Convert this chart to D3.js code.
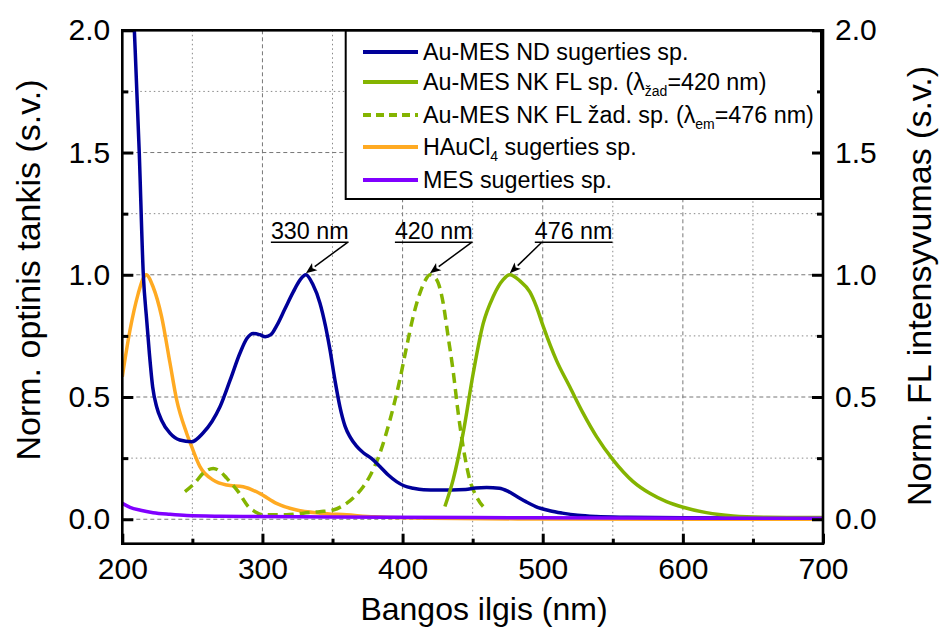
<!DOCTYPE html>
<html>
<head>
<meta charset="utf-8">
<script src="https://cdn.jsdelivr.net/npm/d3@7"></script>
<style>
  html, body { margin: 0; padding: 0; background: #fff; }
  svg { display: block; font-family: "Liberation Sans", Arial, sans-serif; }
</style>
</head>
<body>
<svg id="chart" width="941" height="628"></svg>
<script>
// Spectra: [wavelength nm, normalised value]
const auMesAbs = [
  [204, 2.6], [208.6, 2.0], [212.1, 1.5], [215, 1.0], [217.4, 0.815], [219.3, 0.68],
  [221.7, 0.54], [224.5, 0.46], [228, 0.405], [234, 0.352], [241, 0.324], [249.5, 0.317],
  [257.6, 0.353], [264, 0.40], [269.7, 0.46], [277, 0.57], [284, 0.68], [289, 0.74],
  [293.4, 0.76], [298, 0.755], [302, 0.747], [306, 0.755], [310, 0.79], [316, 0.86],
  [322, 0.93], [327, 0.98], [331, 1.0], [336, 0.96], [341, 0.885], [345, 0.79],
  [348, 0.70], [352, 0.56], [355.3, 0.46], [359, 0.38], [362.4, 0.338], [367, 0.30],
  [372, 0.272], [378, 0.248], [384, 0.215], [390, 0.18], [395.7, 0.154], [401, 0.137],
  [407.6, 0.127], [415, 0.121], [425, 0.12], [435, 0.12], [445, 0.122], [452, 0.128],
  [460, 0.13], [469, 0.127], [475, 0.115], [481, 0.095], [488, 0.072], [495, 0.052],
  [505, 0.035], [514, 0.025], [525, 0.016], [538, 0.011], [560, 0.008], [600, 0.006],
  [650, 0.005], [700, 0.004]
];
const auMesFl = [
  [430.2, 0.052], [436, 0.16], [443.2, 0.352], [450.4, 0.597], [457.5, 0.80],
  [464.6, 0.91], [471.8, 0.98], [476.5, 1.0], [483.7, 0.975], [490.8, 0.93],
  [495.5, 0.87], [500.3, 0.79], [509.8, 0.65], [519.3, 0.542], [528.8, 0.434],
  [538.4, 0.338], [550.2, 0.243], [564.5, 0.154], [576.4, 0.106], [588.3, 0.072],
  [600.2, 0.049], [616.8, 0.027], [635.8, 0.0135], [659.6, 0.008], [680, 0.007],
  [700, 0.007]
];
const auMesExc = [
  [244.7, 0.113], [252, 0.15], [258, 0.19], [264.9, 0.208], [270, 0.195], [274.5, 0.168],
  [282.7, 0.113], [289.9, 0.052], [295, 0.03], [300.6, 0.018], [317.3, 0.018],
  [329.1, 0.025], [341, 0.031], [350.5, 0.038], [360, 0.065], [367, 0.1], [371.9, 0.133],
  [377, 0.18], [383.8, 0.27], [391, 0.406], [398, 0.57], [402.9, 0.706], [407.6, 0.83],
  [412.3, 0.924], [416, 0.975], [419.5, 1.0], [424.3, 0.98], [429, 0.883], [432.5, 0.747],
  [436, 0.61], [439.7, 0.434], [443.2, 0.297], [448, 0.16], [452.8, 0.092], [460, 0.038]
];
const hauCl4Abs = [
  [200, 0.583], [205.5, 0.774], [211.4, 0.924], [214.5, 0.98], [217, 1.0], [222, 0.95],
  [228, 0.83], [234, 0.64], [238.8, 0.488], [245.9, 0.352], [249.5, 0.297], [255.4, 0.215],
  [264.9, 0.16], [274.5, 0.14], [286.3, 0.133], [298, 0.106], [310, 0.065], [324.4, 0.038],
  [341, 0.025], [360, 0.018], [380, 0.01], [420, 0.004], [500, 0.001], [700, 0.0]
];
const mesAbs = [
  [200, 0.065], [205.5, 0.049], [213, 0.037], [222, 0.027], [234, 0.02], [246, 0.015],
  [270, 0.012], [293, 0.011], [350, 0.009], [450, 0.007], [550, 0.005], [700, 0.004]
];

const seriesNames = [
  "Au-MES ND sugerties sp.",
  "Au-MES NK FL sp. (λ|žad|=420 nm)",
  "Au-MES NK FL žad. sp. (λ|em|=476 nm)",
  "HAuCl|4| sugerties sp.",
  "MES sugerties sp."
];
const seriesColors = ["#000099", "#84b400", "#84b400", "#ffaa22", "#8000ff"];
const seriesDash = [null, null, "10,6", null, null];
const seriesData = [auMesAbs, auMesFl, auMesExc, hauCl4Abs, mesAbs];
// drawing order: bottom to top
const drawOrder = [3, 2, 0, 1, 4];

const xMajorTicks = [200, 300, 400, 500, 600, 700];
const xMinorTicks = [250, 350, 450, 550, 650];
const yMajorTicks = [0, 0.5, 1.0, 1.5, 2.0];
const yMinorTicks = [0.25, 0.75, 1.25, 1.75];

const peakLabels = ["330 nm", "420 nm", "476 nm"];
const peakWavelengths = [331, 419.5, 476.5];
const peakValues = [1.0, 1.0, 1.0];

const svg = d3.select("#chart");
const L = 122.3, R = 823, T = 30.3, B = 543.7;

const x = d3.scaleLinear().domain([200, 700]).range([L, R]);
const y = d3.scaleLinear().domain([-0.1, 2.0]).range([B, T]);

// grid
const grid = svg.append("g");
grid.selectAll("line.vmaj").data(xMajorTicks.filter(v => v > 200 && v < 700)).join("line")
  .attr("x1", d => x(d)).attr("x2", d => x(d)).attr("y1", T).attr("y2", B)
  .attr("stroke", "#777").attr("stroke-width", 1).attr("stroke-dasharray", "4,3");
grid.selectAll("line.vmin").data(xMinorTicks).join("line")
  .attr("x1", d => x(d)).attr("x2", d => x(d)).attr("y1", T).attr("y2", B)
  .attr("stroke", "#888").attr("stroke-width", 1).attr("stroke-dasharray", "1.5,3");
grid.selectAll("line.hmaj").data(yMajorTicks.filter(v => v < 2)).join("line")
  .attr("y1", d => y(d)).attr("y2", d => y(d)).attr("x1", L).attr("x2", R)
  .attr("stroke", "#777").attr("stroke-width", 1).attr("stroke-dasharray", "4,3");
grid.selectAll("line.hmin").data(yMinorTicks).join("line")
  .attr("y1", d => y(d)).attr("y2", d => y(d)).attr("x1", L).attr("x2", R)
  .attr("stroke", "#888").attr("stroke-width", 1).attr("stroke-dasharray", "1.5,3");

// legend box background (drawn before curves so it masks grid)
const legX0 = 345.7, legX1 = 821, legY0 = T, legY1 = 199;
svg.append("rect").attr("x", legX0).attr("y", legY0)
  .attr("width", legX1 - legX0).attr("height", legY1 - legY0)
  .attr("fill", "#fff");

// curves
svg.append("clipPath").attr("id", "plotclip").append("rect")
  .attr("x", L).attr("y", T).attr("width", R - L).attr("height", B - T);
const line = d3.line().x(d => x(d[0])).y(d => y(d[1])).curve(d3.curveMonotoneX);
const curves = svg.append("g").attr("clip-path", "url(#plotclip)");
drawOrder.forEach(i => {
  curves.append("path").datum(seriesData[i])
    .attr("d", line).attr("fill", "none")
    .attr("stroke", seriesColors[i]).attr("stroke-width", 3.5)
    .attr("stroke-linejoin", "round")
    .attr("stroke-dasharray", seriesDash[i]);
});

// axes
const fontTick = 30;
const axLeft = d3.axisLeft(y).tickValues(yMajorTicks).tickSize(-11).tickPadding(12).tickFormat(d3.format(".1f"));
const axLeftMin = d3.axisLeft(y).tickValues(yMinorTicks).tickSize(-6).tickFormat("");
const axRight = d3.axisRight(y).tickValues(yMajorTicks).tickSize(-11).tickPadding(12).tickFormat(d3.format(".1f"));
const axRightMin = d3.axisRight(y).tickValues(yMinorTicks).tickSize(-6).tickFormat("");
const axBottom = d3.axisBottom(x).tickValues(xMajorTicks).tickSize(-10).tickPadding(14).tickFormat(d3.format("d"));
const axBottomMin = d3.axisBottom(x).tickValues(xMinorTicks).tickSize(-5).tickFormat("");

function styleAxis(g) {
  g.select(".domain").remove();
  g.selectAll(".tick line").attr("stroke", "#000").attr("stroke-width", 3);
  g.selectAll(".tick text").attr("fill", "#000")
    .style("font-size", fontTick + "px")
    .style("font-family", "'Liberation Sans', Arial, sans-serif");
}
svg.append("g").attr("transform", `translate(${L},0)`).call(axLeft).call(styleAxis);
svg.append("g").attr("transform", `translate(${L},0)`).call(axLeftMin).call(styleAxis);
svg.append("g").attr("transform", `translate(${R},0)`).call(axRight).call(styleAxis);
svg.append("g").attr("transform", `translate(${R},0)`).call(axRightMin).call(styleAxis);
svg.append("g").attr("transform", `translate(0,${B})`).call(axBottom).call(styleAxis);
svg.append("g").attr("transform", `translate(0,${B})`).call(axBottomMin).call(styleAxis);

// frame
svg.append("rect").attr("x", L).attr("y", T).attr("width", R - L).attr("height", B - T)
  .attr("fill", "none").attr("stroke", "#000").attr("stroke-width", 2.6);

// axis titles
svg.append("text").attr("x", 484).attr("y", 620).attr("text-anchor", "middle")
  .style("font-size", "32px").text("Bangos ilgis (nm)");
svg.append("text").attr("transform", "translate(40,270) rotate(-90)")
  .attr("text-anchor", "middle").style("font-size", "34px")
  .text("Norm. optinis tankis (s.v.)");
svg.append("text").attr("transform", "translate(931,286) rotate(-90)")
  .attr("text-anchor", "middle").style("font-size", "34px")
  .text("Norm. FL intensyvumas (s.v.)");

// legend
svg.append("rect").attr("x", legX0).attr("y", legY0)
  .attr("width", legX1 - legX0).attr("height", legY1 - legY0)
  .attr("fill", "none").attr("stroke", "#000").attr("stroke-width", 2);
const rowY = [52, 82, 115, 147, 180];
seriesNames.forEach((name, i) => {
  svg.append("line").attr("x1", 363).attr("x2", 418).attr("y1", rowY[i]).attr("y2", rowY[i])
    .attr("stroke", seriesColors[i]).attr("stroke-width", 4)
    .attr("stroke-dasharray", seriesDash[i] ? "8,5" : null);
  const t = svg.append("text").attr("x", 423).attr("y", rowY[i] + 8).style("font-size", "23.3px");
  name.split("|").forEach((part, k) => {
    if (k % 2 === 1) {
      t.append("tspan").attr("dy", 6).style("font-size", "14px").text(part);
    } else {
      t.append("tspan").attr("dy", k > 0 ? -6 : 0).text(part);
    }
  });
});

// peak annotations
const annDx = [-35, -35, 25];   // text left edge relative to arrow tip
const annFromRight = [true, true, false];
peakLabels.forEach((lab, i) => {
  const tipX = x(peakWavelengths[i]), tipY = y(peakValues[i]) - 1.5;
  const baseY = tipY - 31;
  const tx = tipX + annDx[i];
  const txt = svg.append("text").attr("x", tx).attr("y", baseY - 3.5)
    .style("font-size", "23.3px").text(lab);
  const w = txt.node().getComputedTextLength();
  svg.append("line").attr("x1", tx).attr("x2", tx + w).attr("y1", baseY).attr("y2", baseY)
    .attr("stroke", "#000").attr("stroke-width", 1.5);
  const sx = annFromRight[i] ? tx + w - 1 : tx + 7;
  const ang = Math.atan2(tipY - baseY, tipX - sx);
  const hl = 11, hw = 4.5;
  const bx = tipX - hl * Math.cos(ang), by = tipY - hl * Math.sin(ang);
  svg.append("line").attr("x1", sx).attr("y1", baseY).attr("x2", bx).attr("y2", by)
    .attr("stroke", "#000").attr("stroke-width", 1.5);
  const px = -Math.sin(ang), py = Math.cos(ang);
  svg.append("path")
    .attr("d", `M${tipX},${tipY}L${bx + px * hw},${by + py * hw}L${bx + hl * 0.25 * Math.cos(ang)},${by + hl * 0.25 * Math.sin(ang)}L${bx - px * hw},${by - py * hw}Z`)
    .attr("fill", "#000");
});
</script>
</body>
</html>
